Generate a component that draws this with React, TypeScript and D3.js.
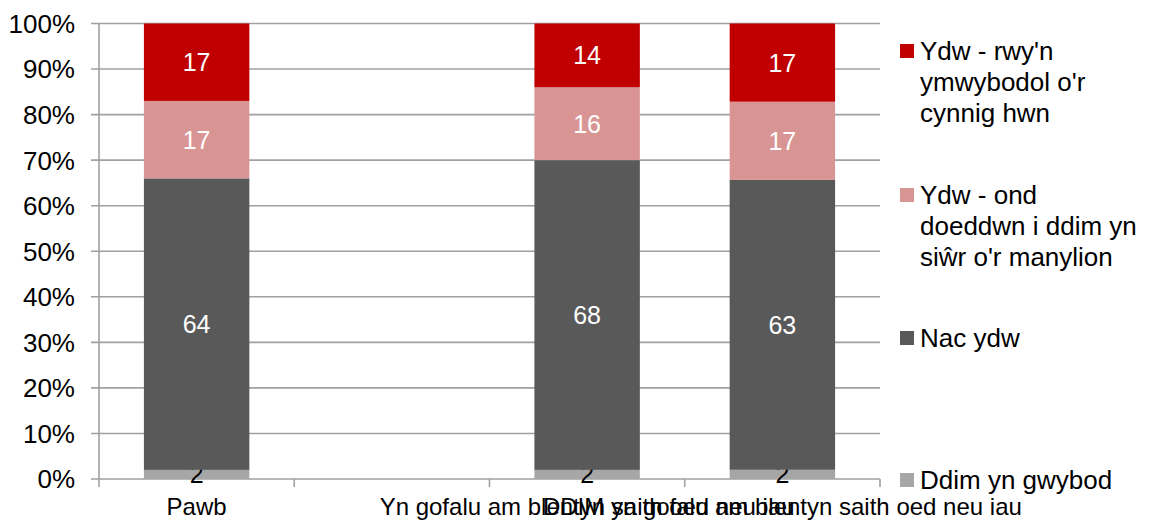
import React from "react";
import * as d3 from "d3";

const categories = ["Pawb", "", "Yn gofalu am blentyn saith oed neu iau", "DDIM yn gofalu am blentyn saith oed neu iau"];
const ddimYnGwybod = [2, null, 2, 2];
const nacYdw = [64, null, 68, 63];
const ydwOnd = [17, null, 16, 17];
const ydwRwyn = [17, null, 14, 17];
const yTicks = [0, 0.1, 0.2, 0.3, 0.4, 0.5, 0.6, 0.7, 0.8, 0.9, 1];

const seriesList = [
  { key: "ddim", values: ddimYnGwybod, color: "#A6A6A6", text: "#000000", legend: ["Ddim yn gwybod"], ly: 480 },
  { key: "nac", values: nacYdw, color: "#595959", text: "#FFFFFF", legend: ["Nac ydw"], ly: 338 },
  { key: "ond", values: ydwOnd, color: "#D99594", text: "#FFFFFF", legend: ["Ydw - ond", "doeddwn i ddim yn", "siŵr o'r manylion"], ly: 195 },
  { key: "rwyn", values: ydwRwyn, color: "#C00000", text: "#FFFFFF", legend: ["Ydw - rwy'n", "ymwybodol o'r", "cynnig hwn"], ly: 51 },
];

const W = 1149, H = 520;
const left = 99, right = 880, top = 23.5, bottom = 479;
const font = "'Liberation Sans', Arial, sans-serif";

export default function App() {
  const x = d3.scaleBand<number>().domain(categories.map((_, i) => i)).range([left, right]).paddingInner(0.46).paddingOuter(0.23);
  const y = d3.scaleLinear().domain([0, 1]).range([bottom, top]);
  const step = x.step();
  const gridColor = "#A0A0A0";

  const bars: React.ReactNode[] = [];
  categories.forEach((_, i) => {
    const vals = seriesList.map((s) => s.values[i]);
    if (vals.some((v) => v == null)) return;
    const total = d3.sum(vals as number[]);
    let cum = 0;
    seriesList.forEach((s, si) => {
      const v = s.values[i] as number;
      const y0 = y(cum / total);
      const y1 = y((cum + v) / total);
      cum += v;
      const bx = x(i)!;
      bars.push(
        <rect key={`${i}-${si}`} x={bx} y={y1} width={x.bandwidth()} height={y0 - y1} fill={s.color} />
      );
      bars.push(
        <text key={`t${i}-${si}`} x={bx + x.bandwidth() / 2} y={(y0 + y1) / 2} dy="0.36em" textAnchor="middle" fontSize={25} fontFamily={font} fill={s.text}>
          {v}
        </text>
      );
    });
  });

  return (
    <svg width={W} height={H} style={{ position: "absolute", left: 0, top: 0 }}>
      <rect width={W} height={H} fill="#FFFFFF" />
      {yTicks.map((t) => (
        <g key={t}>
          <line x1={left - 8} x2={right} y1={y(t)} y2={y(t)} stroke={gridColor} strokeWidth={1.6} />
          <text x={75} y={y(t)} dy="0.36em" textAnchor="end" fontSize={26} fontFamily={font} fill="#000">
            {d3.format(".0%")(t)}
          </text>
        </g>
      ))}
      <line x1={left} x2={left} y1={top} y2={bottom} stroke={gridColor} strokeWidth={1.6} />
      {categories.map((_, i) => (
        <line key={`ct${i}`} x1={left + step * i} x2={left + step * i} y1={bottom} y2={bottom + 8} stroke={gridColor} strokeWidth={1.6} />
      ))}
      <line x1={right} x2={right} y1={bottom} y2={bottom + 8} stroke={gridColor} strokeWidth={1.6} />
      {bars}
      {categories.map((c, i) => (
        <text key={`cl${i}`} x={x(i)! + x.bandwidth() / 2} y={515} textAnchor="middle" fontSize={24} fontFamily={font} fill="#000">
          {c}
        </text>
      ))}
      {seriesList.map((s) => (
        <g key={`lg${s.key}`}>
          <rect x={900} y={s.ly - 7} width={14} height={14} fill={s.color} />
          {s.legend.map((line, li) => (
            <text key={li} x={920} y={s.ly + li * 31} dy="0.36em" fontSize={26} fontFamily={font} fill="#000">
              {line}
            </text>
          ))}
        </g>
      ))}
    </svg>
  );
}
